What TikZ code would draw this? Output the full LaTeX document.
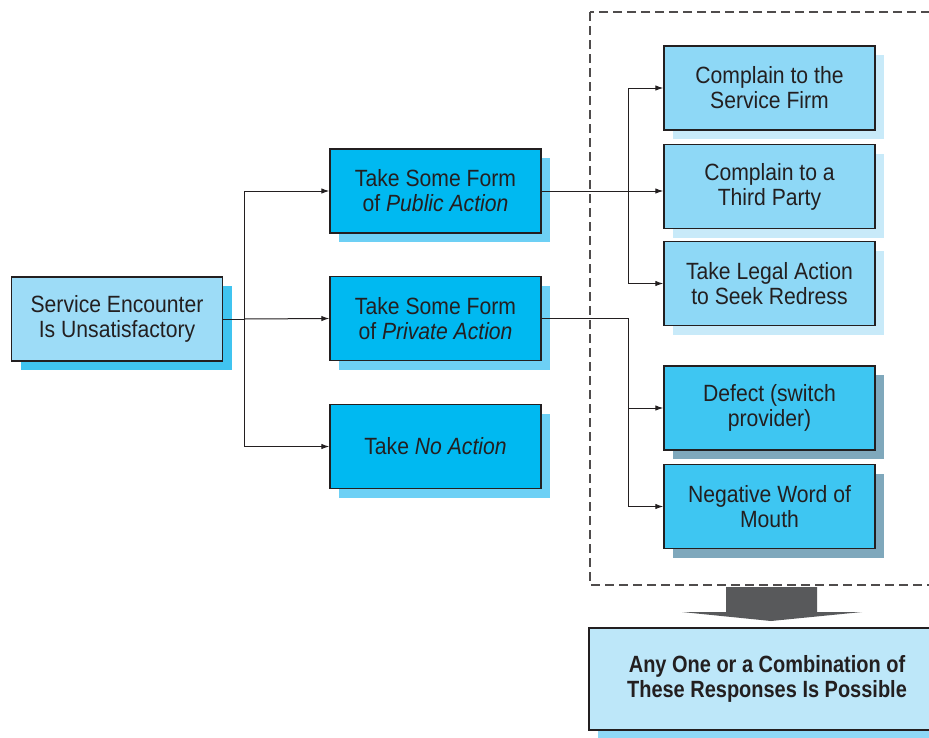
\documentclass[tikz,border=0pt]{standalone}
\usepackage{fontspec}
\setmainfont[FakeStretch=0.9]{Liberation Sans}
\usetikzlibrary{shadows,arrows.meta}

\definecolor{ink}{HTML}{231F20}
\definecolor{paleblue}{HTML}{9DDCF7}
\definecolor{midblue}{HTML}{8ED8F6}
\definecolor{cyanblue}{HTML}{00B9F1}
\definecolor{skyblue}{HTML}{3EC6F2}
\definecolor{shadeA}{HTML}{40C4F0}
\definecolor{shadeB}{HTML}{6DD0F5}
\definecolor{shadeC}{HTML}{C8EAF9}
\definecolor{shadeD}{HTML}{7FA8BC}
\definecolor{resultblue}{HTML}{BDE7F9}
\definecolor{arrowgray}{HTML}{58595B}

\begin{document}
\begin{tikzpicture}[x=1pt,y=-1pt,line width=1.4pt]
\tikzstyle{every node}=[font=\fontsize{23.5}{25}\selectfont, text=ink]
\tikzstyle{box}=[draw=ink, rectangle, align=center, minimum width=211pt, minimum height=84pt, inner sep=0pt]
\tikzstyle{shade}=[drop shadow={shadow xshift=9pt, shadow yshift=-9pt, opacity=1, fill=#1}]
\tikzstyle{link}=[draw=ink, line width=1pt, -{Latex[length=8pt,width=5.5pt]}]

\useasboundingbox (0,0) rectangle (929,737);

% grouping of the possible responses
\draw[ink!80, line width=1.2pt, dash pattern=on 9pt off 5pt] (590,12) rectangle (950,585);

\node[box, fill=paleblue, shade=shadeA] (start) at (117,319) {Service Encounter\\Is Unsatisfactory};

\node[box, fill=cyanblue, shade=shadeB] (public)  at (435.5,191)   {Take Some Form\\of \textit{Public Action}};
\node[box, fill=cyanblue, shade=shadeB] (private) at (435.5,318.5) {Take Some Form\\of \textit{Private Action}};
\node[box, fill=cyanblue, shade=shadeB] (none)    at (435.5,446.5) {Take \textit{No Action}};

\node[box, fill=midblue, shade=shadeC] (firm)  at (769.5,88)    {Complain to the\\Service Firm};
\node[box, fill=midblue, shade=shadeC] (third) at (769.5,186.5) {Complain to a\\Third Party};
\node[box, fill=midblue, shade=shadeC] (legal) at (769.5,283.5) {Take Legal Action\\to Seek Redress};

\node[box, fill=skyblue, shade=shadeD] (defect) at (769.5,408)   {Defect (switch\\provider)};
\node[box, fill=skyblue, shade=shadeD] (mouth)  at (769.5,506.5) {Negative Word of\\Mouth};

\node[box, fill=resultblue, shade=midblue, minimum width=356pt, minimum height=102pt,
      font=\fontsize{23.5}{25}\selectfont\bfseries\addfontfeature{FakeStretch=0.85}] (result) at (767,679)
      {Any One or a Combination of\\These Responses Is Possible};

% block arrow down to the result
\fill[arrowgray] (726,587) -- (817,587) -- (817,612) -- (862,612) -- (771,621)
  -- (682,612) -- (726,612) -- cycle;

% branches from the first box
\coordinate (fork) at (244,319);
\draw[ink, line width=1pt] (start.east) -- (fork);
\draw[link] (fork) |- (public.west);
\draw[link] (fork) -- (private.west);
\draw[link] (fork) |- (none.west);

% public responses
\coordinate (pubfork) at (628,191);
\draw[link] (public.east) -- (third.west |- public.east);
\draw[link] (pubfork) |- (firm.west);
\draw[link] (pubfork) |- (legal.west);

% private responses
\draw[link] (private.east) -| (628,408) -- (defect.west);
\draw[link] (628,408) |- (mouth.west);
\end{tikzpicture}
\end{document}
